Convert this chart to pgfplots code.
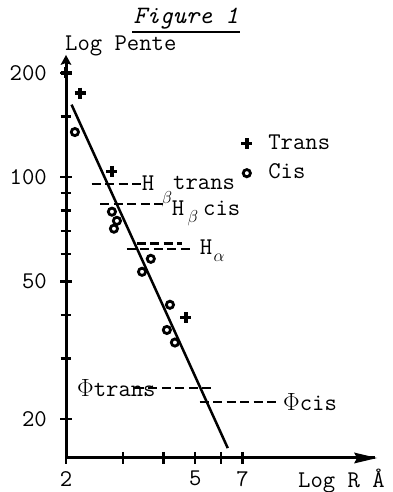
\documentclass[border=0pt]{standalone}
\usepackage{pgfplots}
\pgfplotsset{compat=1.18}
\renewcommand{\familydefault}{\ttdefault}
\begin{document}
\fontsize{24}{28}\selectfont
\begin{tikzpicture}
\path[use as bounding box] (-66pt,-34pt) rectangle (327pt,458pt);
\begin{axis}[
  at={(0pt,0pt)}, anchor=south west,
  scale only axis, width=309pt, height=398pt,
  xmode=log, ymode=log,
  xmin=2, xmax=17.9, ymin=15.45, ymax=218,
  axis lines=left,
  axis line style={line width=3pt, black, -},
  xtick={2,5,7}, xticklabels={2,5,7},
  minor xtick={3,4,6},
  ytick={20,50,100,200}, yticklabels={20,50,100,200},
  minor ytick={30,40,60,70,80,90,150},
  tick align=center,
  major tick length=12pt, minor tick length=11pt,
  tick style={line width=2.6pt, black},
  every tick label/.append style={font=\ttfamily\fontsize{24}{28}\selectfont},
  xticklabel style={yshift=1pt},
  yticklabel style={xshift=-5pt},
  /pgf/number format/assume math mode=true,
  clip=false,
  legend style={at={(0.557,0.823)}, anchor=north west, draw=none, fill=none,
    font=\ttfamily\fontsize{24}{28}\selectfont, row sep=7pt, column sep=14pt},
  legend cell align=left,
]
% x-axis tick marks
\addplot[only marks, mark=|, mark size=6pt, line width=2.6pt, black, forget plot] coordinates {
 (3,15.45) (4,15.45) (5,15.45) (6,15.45) (7,15.45)};
% fitted line
\addplot[black, line width=2.5pt, forget plot] coordinates {(2.08,162) (6.30,16.5)};
% dashed reference levels
\addplot[black, line width=2.3pt, dash pattern=on 9pt off 4.5pt, forget plot] coordinates {(2.40,95.7) (3.50,95.7)};
\addplot[black, line width=2.3pt, dash pattern=on 9pt off 4.5pt, forget plot] coordinates {(2.55,83.8) (3.97,83.8)};
\addplot[black, line width=2.3pt, dash pattern=on 9pt off 4.5pt, forget plot] coordinates {(3.30,64.3) (4.55,64.3)};
\addplot[black, line width=2.3pt, dash pattern=on 9pt off 4.5pt, forget plot] coordinates {(3.08,62.1) (4.92,62.1)};
\addplot[black, line width=2.3pt, dash pattern=on 9pt off 4.5pt, forget plot] coordinates {(3.26,24.6) (5.66,24.6)};
\addplot[black, line width=2.3pt, dash pattern=on 9pt off 4.5pt, forget plot] coordinates {(5.16,22.4) (8.91,22.4)};
% Trans
\addplot[only marks, mark=+, mark size=5.5pt, line width=3.4pt, black] coordinates {
 (2.0,200) (2.21,175) (2.77,104) (4.68,39.3)};
\addlegendentry{Trans}
% Cis
\addplot[only marks, mark=o, mark size=3.6pt, line width=2.8pt, black] coordinates {
 (2.13,135) (2.77,79.5) (2.87,74.8) (2.81,71.0) (3.65,58.1) (3.43,53.3) (4.18,42.8) (4.09,36.2) (4.33,33.3)};
\addlegendentry{Cis}
\end{axis}
% arrow heads on the axes
\fill[black] (311pt,0pt) -- (288pt,5.5pt) -- (291pt,0pt) -- (288pt,-5.5pt) -- cycle;
\fill[black] (0pt,403pt) -- (-5.5pt,393pt) -- (0pt,395pt) -- (5.5pt,393pt) -- cycle;
% labels (tikz coordinates: X = px-66, Y = 458-py)
\node[font=\ttfamily\itshape\fontsize{25}{28}\selectfont] at (120pt,439pt) {Figure 1};
\draw[line width=1.3pt] (66pt,426pt) -- (174pt,426pt);
\node[anchor=west, inner sep=0pt] at (-1pt,412pt) {Log Pente};
\node[anchor=west, inner sep=0pt] at (232pt,-23pt) {Log R Å};
\node[inner sep=0pt] at (82pt,275pt) {H};
\node[inner sep=0pt] at (101pt,259pt) {$\scriptstyle\beta$};
\node[anchor=west, inner sep=0pt] at (107pt,275pt) {trans};
\node[inner sep=0pt] at (112pt,250pt) {H};
\node[inner sep=0pt] at (127pt,240pt) {$\scriptstyle\beta$};
\node[anchor=west, inner sep=0pt] at (137pt,250pt) {cis};
\node[inner sep=0pt] at (140pt,211pt) {H};
\node[inner sep=0pt] at (153pt,200pt) {$\scriptstyle\alpha$};
\node[anchor=west, inner sep=0pt] at (11pt,70pt) {$\Phi$trans};
\node[anchor=west, inner sep=0pt] at (217pt,56pt) {$\Phi$cis};
\end{tikzpicture}
\end{document}
